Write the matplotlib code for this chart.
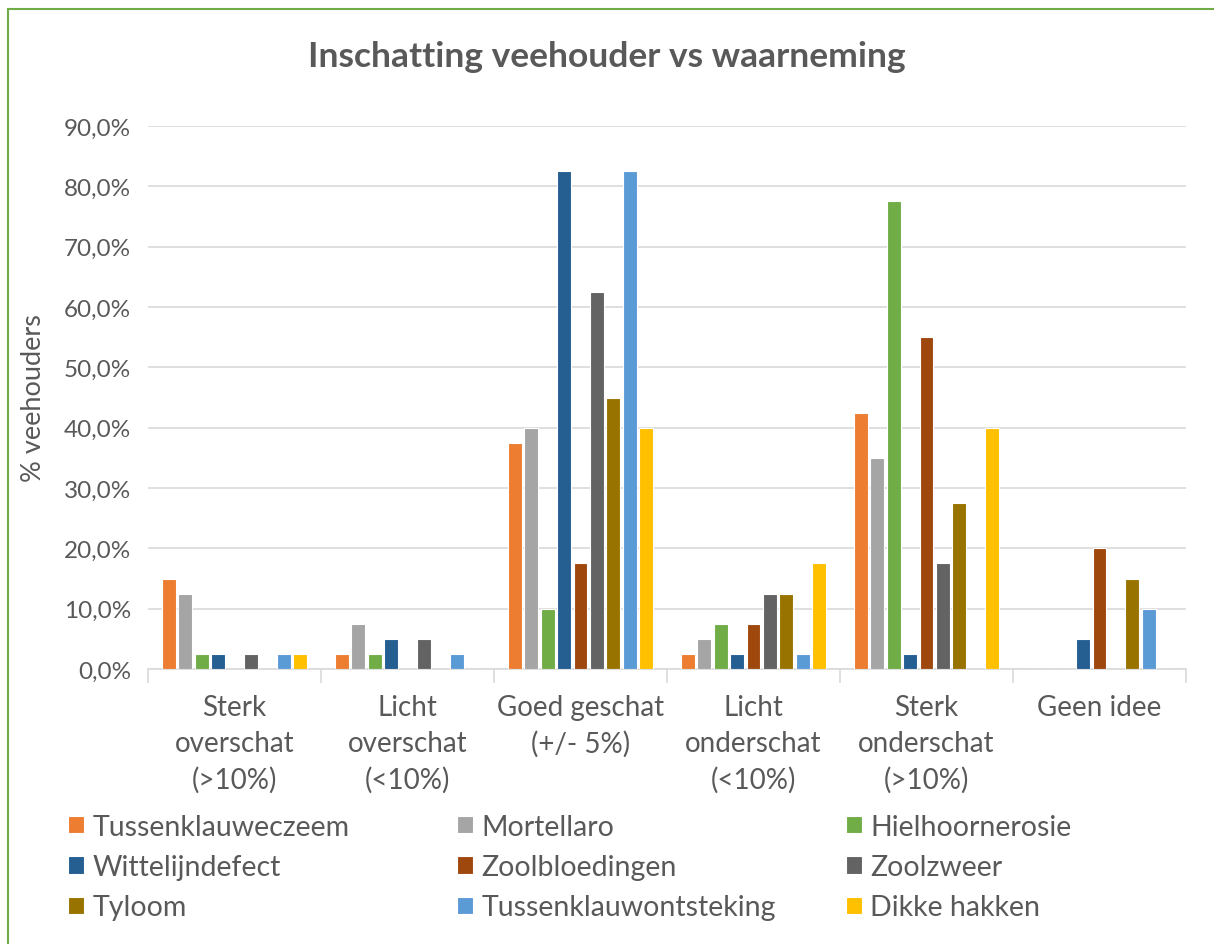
import numpy as np
import matplotlib.pyplot as plt
import matplotlib.patches as mpatches
import matplotlib.ticker as plticker

plt.rcParams['font.family'] = ['Lato', 'DejaVu Sans']

categories = ['Sterk\noverschat\n(>10%)', 'Licht\noverschat\n(<10%)', 'Goed geschat\n(+/- 5%)',
              'Licht\nonderschat\n(<10%)', 'Sterk\nonderschat\n(>10%)', 'Geen idee']

series_names = ['Tussenklauweczeem', 'Mortellaro', 'Hielhoornerosie',
                'Wittelijndefect', 'Zoolbloedingen', 'Zoolzweer',
                'Tyloom', 'Tussenklauwontsteking', 'Dikke hakken']
colors = ['#ED7D31', '#A5A5A5', '#70AD47', '#255E91', '#9E480E',
          '#636363', '#997300', '#5B9BD5', '#FFC000']

tussenklauweczeem = [15, 2.5, 37.5, 2.5, 42.5, 0]
mortellaro = [12.5, 7.5, 40, 5, 35, 0]
hielhoornerosie = [2.5, 2.5, 10, 7.5, 77.5, 0]
wittelijndefect = [2.5, 5, 82.5, 2.5, 2.5, 5]
zoolbloedingen = [0, 0, 17.5, 7.5, 55, 20]
zoolzweer = [2.5, 5, 62.5, 12.5, 17.5, 0]
tyloom = [0, 0, 45, 12.5, 27.5, 15]
tussenklauwontsteking = [2.5, 2.5, 82.5, 2.5, 0, 10]
dikke_hakken = [2.5, 0, 40, 17.5, 40, 0]

values = [tussenklauweczeem, mortellaro, hielhoornerosie, wittelijndefect,
          zoolbloedingen, zoolzweer, tyloom, tussenklauwontsteking, dikke_hakken]

text_color = '#595959'
fig = plt.figure(figsize=(12.14, 9.45), dpi=100)
ax = fig.add_axes([0.1219, 0.291, 0.855, 0.5746])

x = np.arange(len(categories))
step = 0.095
width = 0.08
handles = []
for i, (name, vals, c) in enumerate(zip(series_names, values, colors)):
    h = ax.bar(x + (i - 4) * step, vals, width, color=c, edgecolor='white',
               linewidth=0.8, label=name, zorder=3)
    handles.append(h)

ax.set_xlim(-0.5, len(categories) - 0.5)
ax.set_ylim(0, 90)
ax.yaxis.set_major_locator(plticker.MultipleLocator(10))
ax.yaxis.set_major_formatter(plticker.FuncFormatter(lambda v, p: f'{v:.1f}%'.replace('.', ',')))
ax.grid(axis='y', color='#D9D9D9', linewidth=1.2, zorder=0)
for s in ['top', 'right', 'left']:
    ax.spines[s].set_visible(False)
ax.spines['bottom'].set_color('#D9D9D9')
ax.spines['bottom'].set_linewidth(1.2)
ax.tick_params(axis='y', length=0, labelsize=17.5, labelcolor=text_color, pad=12)
ax.set_xticks(x)
ax.set_xticklabels(categories, fontsize=20, color=text_color, linespacing=1.46)
ax.tick_params(axis='x', length=0, pad=18)
ax.set_xticks(np.arange(-0.5, len(categories)), minor=True)
ax.tick_params(axis='x', which='minor', length=10, color='#D9D9D9', width=1.2)
ax.set_ylabel('% veehouders', fontsize=19.5, color=text_color, labelpad=13)

fig.text(0.5, 0.94, 'Inschatting veehouder vs waarneming', ha='center', va='center',
         fontsize=25.5, fontweight='bold', color=text_color)

col_x = [68 / 1214, 457 / 1214, 846 / 1214]
for col in range(3):
    fig.legend(handles=handles[col::3], labels=series_names[col::3],
               loc='center left', bbox_to_anchor=(col_x[col], (945 - 868) / 945),
               frameon=False, fontsize=20.5, handlelength=0.56, handleheight=0.56,
               handletextpad=0.3, labelspacing=0.5, borderpad=0, borderaxespad=0,
               labelcolor=text_color)

border = mpatches.Rectangle((8 / 1214, -0.1), 1.2, 1.1 - 10 / 945, transform=fig.transFigure,
                            fill=False, edgecolor='#70AD47', linewidth=1.5, clip_on=False)
fig.patches.append(border)

fig.savefig('out.png', dpi=100)
